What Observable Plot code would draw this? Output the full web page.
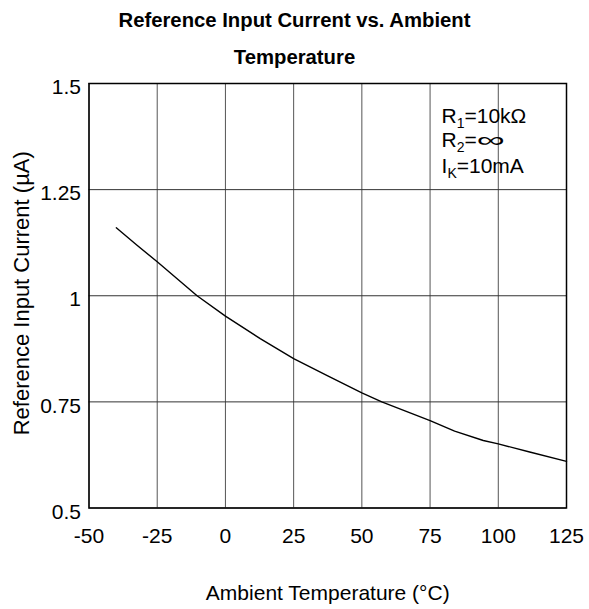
<!DOCTYPE html>
<html>
<head>
<meta charset="utf-8">
<script src="https://cdn.jsdelivr.net/npm/d3@7"></script>
<script src="https://cdn.jsdelivr.net/npm/@observablehq/plot@0.6"></script>
<style>
  html, body { margin: 0; padding: 0; background: #fff; }
  body { width: 589px; height: 609px; overflow: hidden; font-family: "Liberation Sans", Arial, sans-serif; }
  #title { height: 76px; box-sizing: border-box; padding-top: 2px; font-weight: bold; font-size: 20.3px; line-height: 37px; text-align: center; color: #000; }
  svg { overflow: visible; display: block; }
</style>
</head>
<body>
<div id="title">Reference Input Current vs. Ambient<br>Temperature</div>
<div id="chart"></div>
<script>
// Curve: ambient temperature (°C) vs reference input current (µA)
const temperature = [-40, -32.4, -25, -10.4, 0, 12.75, 25, 37.5, 50, 57.3, 75, 84, 94.5, 100, 111.5, 125];
const current     = [1.16, 1.119, 1.08, 1.0, 0.952, 0.899, 0.852, 0.811, 0.771, 0.75, 0.706, 0.681, 0.659, 0.651, 0.632, 0.610];

const xTicks = [-50, -25, 0, 25, 50, 75, 100, 125];
const xTickLabels = ["-50", "-25", "0", "25", "50", "75", "100", "125"];
const yTicks = [0.5, 0.75, 1, 1.25, 1.5];
const yTickLabels = ["0.5", "0.75", "1", "1.25", "1.5"];

// Test-condition annotation: main letter, subscript, rest
const conditionMain = ["R", "R", "I"];
const conditionSub  = ["1", "2", "K"];
const conditionRest = ["=10kΩ", "=∞", "=10mA"];
const conditionY    = [1.406, 1.351, 1.288];
const conditionX    = 79.2;

const xLabel = "Ambient Temperature (°C)";
const yLabel = "Reference Input Current (µA)";

const curve = temperature.map((t, i) => ({t, c: current[i]}));
const conditions = conditionMain.map((m, i) => ({m, s: conditionSub[i], r: conditionRest[i], y: conditionY[i], full: m + conditionSub[i] + conditionRest[i]}));

const plot = Plot.plot({
  width: 589,
  height: 533,
  marginTop: 7,
  marginBottom: 101.5,
  marginLeft: 88.5,
  marginRight: 23,
  style: {fontFamily: "Liberation Sans, Arial, sans-serif", fontSize: "21px", color: "#000", background: "transparent"},
  x: {domain: [-50, 125], ticks: xTicks},
  y: {domain: [0.5, 1.5], ticks: yTicks},
  marks: [
    Plot.gridX(xTicks, {stroke: "#555", strokeOpacity: 1, strokeWidth: 1}),
    Plot.gridY(yTicks, {stroke: "#333", strokeOpacity: 1, strokeWidth: 1}),
    Plot.axisX({ticks: xTicks, tickSize: 0, tickPadding: 20, label: null, fontSize: 21,
      tickFormat: (d) => xTickLabels[xTicks.indexOf(d)]}),
    Plot.axisY({ticks: yTicks, tickSize: 0, tickPadding: 8, label: null, fontSize: 21, dy: 4,
      tickFormat: (d) => yTickLabels[yTicks.indexOf(d)]}),
    Plot.frame({stroke: "#000", strokeWidth: 1.5}),
    Plot.line(curve, {x: "t", y: "c", stroke: "#000", strokeWidth: 1.4}),
    Plot.text(conditions, {x: () => conditionX, y: "y", text: "full", textAnchor: "start", lineAnchor: "bottom",
      fontSize: 21, fill: "#000"}),
    Plot.text([xLabel], {frameAnchor: "bottom", dy: 85.5, lineAnchor: "middle", textAnchor: "middle", text: (d) => d, fontSize: 21, fill: "#000"}),
    Plot.text([yLabel], {frameAnchor: "left", dx: -67.5, dy: -2.5, rotate: -90, lineAnchor: "middle", textAnchor: "middle", text: (d) => d, fontSize: 22, fill: "#000"})
  ]
});

// rebuild the condition texts with subscripts (and a wide infinity sign as in the reference)
const byFull = new Map(conditions.map((c) => [c.full, c]));
d3.select(plot).selectAll("text").each(function() {
  const row = byFull.get(this.textContent);
  if (!row) return;
  const t = d3.select(this);
  t.text(null);
  t.append("tspan").text(row.m);
  t.append("tspan").attr("dy", "5").attr("font-size", "14px").text(row.s);
  const parts = row.r.split("∞");
  t.append("tspan").attr("dy", "-5").text(parts[0]);
  if (parts.length > 1) {
    t.append("tspan").attr("textLength", 28).attr("lengthAdjust", "spacingAndGlyphs").text("∞");
    if (parts[1]) t.append("tspan").text(parts[1]);
  }
});

document.getElementById("chart").appendChild(plot);
</script>
</body>
</html>
